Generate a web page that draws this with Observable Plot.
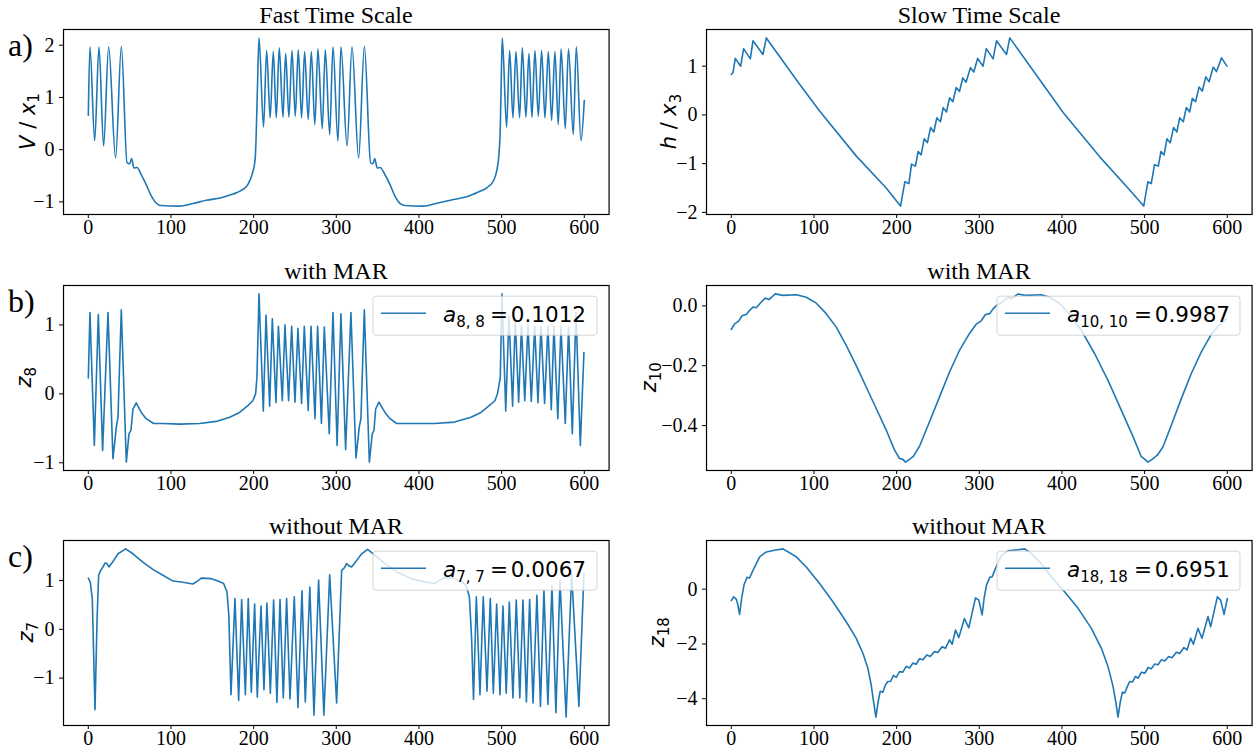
<!DOCTYPE html>
<html><head><meta charset="utf-8">
<script src="https://cdn.jsdelivr.net/npm/d3@7"></script>
<script src="https://cdn.jsdelivr.net/npm/@observablehq/plot@0.6"></script>
<style>
html,body{margin:0;padding:0;background:#fff;}
#fig{position:relative;width:1256px;height:749px;overflow:hidden;background:#fff;}
#fig svg{position:absolute;}
</style></head><body><div id="fig"></div>
<script>
// ---------- data (time, value) ----------
const xTicks = [0, 100, 200, 300, 400, 500, 600];

const fastV = [[0,0.66],[2,1.97],[7.7,0.17],[12.9,1.97],[18.5,0.07],[24.6,1.97],[33,-0.16],[40,1.98],[46.8,-0.25],[50,-0.27],[52.4,-0.17],[55.2,-0.35],[58.9,-0.34],[64,-0.48],[70,-0.67],[76,-0.88],[82,-1.02],[88,-1.07],[110,-1.08],[126.6,-1.03],[142.7,-0.97],[163,-0.91],[175,-0.85],[185,-0.78],[193,-0.67],[198,-0.48],[201.6,-0.22],[203,0.23],[204.4,1.05],[206.5,2.14],[212,0.43],[215.7,1.90],[220,0.61],[223.8,1.88],[227.4,0.61],[231,1.95],[235.5,0.62],[238.7,1.84],[242.7,0.62],[246.4,1.90],[250.4,0.64],[254,1.91],[258,0.61],[261.7,1.88],[266,0.58],[269.8,1.88],[274,0.48],[277.8,1.93],[283,0.40],[286.7,1.91],[292,0.29],[296,1.97],[302,0.16],[305.6,1.97],[313,0.07],[319,1.97],[327,-0.16],[334,1.98],[341.5,-0.25],[344.4,-0.27],[346.4,-0.17],[349.6,-0.35],[353,-0.34],[358.9,-0.48],[365,-0.67],[371,-0.89],[377,-1.03],[383,-1.07],[405,-1.08],[423,-1.02],[443.5,-0.95],[459.7,-0.89],[471.8,-0.81],[482,-0.73],[490,-0.60],[494,-0.41],[496.8,-0.09],[498.4,0.42],[499.6,1.37],[500.8,2.14],[506,0.43],[509.7,1.90],[513.7,0.61],[517.3,1.88],[521.8,0.61],[525,1.95],[529.4,0.62],[533,1.84],[536.7,0.62],[540.3,1.90],[544.4,0.64],[548.4,1.90],[552.4,0.61],[556.5,1.88],[560.5,0.56],[564.5,1.88],[568.5,0.48],[572,1.93],[577,0.40],[580.9,1.93],[586.7,0.29],[590.3,1.97],[596,0.17],[600,0.94]];

const slowH = [[0,0.83],[2,0.87],[4.8,1.16],[11.3,1.00],[14.9,1.36],[23,1.15],[26.2,1.52],[38.3,1.24],[42.3,1.58],[82.6,0.63],[106.8,0.08],[151,-0.84],[187.4,-1.50],[204.7,-1.87],[210,-1.37],[214.8,-1.41],[218,-1.01],[222.8,-1.05],[226,-0.75],[229.7,-0.82],[233.3,-0.49],[237.3,-0.57],[241,-0.26],[245,-0.35],[248.6,-0.06],[253,-0.14],[256.3,0.15],[260.3,0.06],[264,0.35],[268,0.27],[272,0.56],[276,0.48],[280,0.76],[284,0.67],[289.3,0.97],[293.4,0.88],[298,1.16],[304.6,1.00],[308.5,1.36],[316.7,1.15],[320.8,1.52],[332.9,1.24],[336.9,1.58],[377,0.63],[401.4,0.05],[445.7,-0.86],[482,-1.54],[498.9,-1.87],[504,-1.37],[508,-1.41],[512,-1.02],[516.6,-1.05],[519.8,-0.75],[523.5,-0.82],[527,-0.49],[531,-0.57],[535,-0.26],[539,-0.35],[542.4,-0.06],[546.8,-0.14],[550.4,0.15],[554.5,0.06],[557.7,0.34],[561.7,0.27],[565.8,0.57],[569.8,0.49],[574,0.78],[578,0.68],[583,0.98],[587,0.89],[593,1.17],[599.6,1.00]];

const z8 = [[0,0.23],[2,1.18],[7.3,-0.75],[12.1,1.15],[17.3,-0.82],[23.8,1.18],[29.8,-0.94],[33.9,-0.48],[35.9,-0.34],[39.9,1.22],[46,-0.99],[49.2,-0.58],[51.6,-0.53],[54,-0.22],[58,-0.13],[64,-0.27],[70,-0.36],[79,-0.43],[90,-0.43],[110.5,-0.44],[134.7,-0.43],[154.8,-0.40],[171,-0.34],[183,-0.27],[193,-0.17],[199,-0.10],[202.4,0],[204,0.24],[206.5,1.45],[211.7,-0.25],[215,1.14],[219.4,-0.18],[222.6,1.09],[227,-0.13],[230,0.98],[234.7,-0.10],[237.9,1.00],[242.3,-0.10],[246,0.98],[250,-0.12],[253.6,0.95],[258,-0.14],[261.3,0.98],[266,-0.24],[269.4,0.98],[274.2,-0.36],[277.4,0.98],[282,-0.43],[285.5,0.97],[291.5,-0.58],[296,1.18],[301,-0.75],[305.6,1.16],[311.3,-0.81],[317.7,1.18],[323.8,-0.93],[327.8,-0.48],[329.8,-0.36],[333.9,1.22],[340,-0.99],[343.5,-0.58],[345.6,-0.53],[347.6,-0.22],[351.6,-0.12],[358.9,-0.27],[365,-0.36],[373,-0.43],[391,-0.43],[419,-0.43],[443,-0.41],[463,-0.34],[475,-0.27],[485,-0.17],[491.9,-0.10],[495,0],[498.4,0.24],[500.4,1.45],[505,-0.25],[508.9,1.14],[513.3,-0.18],[516.5,1.09],[520.6,-0.12],[524,0.98],[528,-0.10],[531.9,1.00],[535.9,-0.11],[540,0.98],[544,-0.13],[547.6,0.98],[552,-0.14],[556,0.98],[560.1,-0.23],[563.3,0.98],[568,-0.36],[571.8,0.98],[577,-0.43],[581,0.97],[585.5,-0.58],[590,1.18],[595.2,-0.75],[599.6,0.60]];

const z10 = [[0,-0.079],[4,-0.060],[8.9,-0.051],[13.3,-0.032],[18.1,-0.029],[22.2,-0.015],[26.2,-0.004],[30.2,-0.006],[36.3,0.013],[41.1,0.026],[45.5,0.021],[53.2,0.040],[62.5,0.035],[78.6,0.037],[90.7,0.029],[102.8,0.009],[114.8,-0.026],[127,-0.071],[139,-0.132],[151,-0.199],[163.2,-0.271],[175.3,-0.343],[187.4,-0.415],[197.5,-0.482],[203.5,-0.510],[207.5,-0.513],[210.8,-0.522],[215.6,-0.513],[220.4,-0.502],[227.7,-0.469],[239.8,-0.387],[251.9,-0.304],[264,-0.221],[276,-0.149],[288,-0.093],[296,-0.062],[302.6,-0.049],[307.4,-0.029],[312.7,-0.026],[316.7,-0.010],[320.7,0.001],[324.8,0.007],[330.9,0.020],[335.7,0.029],[338.9,0.024],[347,0.040],[355,0.035],[375,0.037],[385.2,0.029],[397.3,0.007],[409.4,-0.029],[423.5,-0.082],[439.6,-0.160],[455.7,-0.249],[471.9,-0.349],[486,-0.437],[496,-0.504],[500,-0.512],[504.1,-0.522],[509,-0.513],[515.4,-0.499],[522.3,-0.471],[532.3,-0.399],[544.4,-0.310],[556.5,-0.226],[568.6,-0.154],[580.7,-0.095],[588.7,-0.069],[598.8,-0.043]];

const z7 = [[0,1.05],[2.4,0.97],[4.8,0.63],[8.1,-1.65],[10.5,0.16],[12.5,1.11],[14.9,1.21],[17.7,1.28],[20.2,1.36],[22.6,1.35],[25,1.28],[29.8,1.39],[35.9,1.55],[45.2,1.65],[54,1.55],[66,1.38],[78,1.23],[90.3,1.11],[102.4,0.99],[112.5,0.97],[126.6,0.93],[131.9,0.99],[136.7,1.05],[148.8,1.04],[156.9,0.99],[163.7,0.94],[167.7,0.77],[170,0.29],[172.6,-1.34],[177.4,0.63],[181.9,-1.46],[185.5,0.61],[190,-1.34],[193.5,0.63],[197.2,-1.29],[201.2,0.52],[204.4,-1.39],[208.9,0.48],[212.5,-1.24],[216.1,0.54],[220.2,-1.31],[224.2,0.60],[228.2,-1.50],[231.9,0.61],[235.9,-1.41],[239.9,0.63],[244,-1.43],[249.2,0.67],[253.6,-1.61],[258.5,0.79],[262.5,-1.49],[268,0.87],[273,-1.76],[278.6,1.01],[285,-1.76],[292,1.12],[300.4,-1.51],[306.5,1.21],[309.7,1.26],[312.5,1.35],[314.5,1.31],[318.5,1.28],[324.6,1.41],[330.6,1.55],[337.9,1.64],[344.8,1.55],[358.9,1.35],[375,1.16],[391,1.04],[407,0.97],[419,0.94],[425,1.01],[431,1.06],[441,1.05],[451,0.99],[457,0.90],[461,0.67],[463.7,-0.18],[466,-1.44],[469.4,0.67],[473.8,-1.34],[477.8,0.67],[482.3,-1.27],[486.3,0.63],[490,-1.31],[494,0.52],[498,-1.34],[501.6,0.48],[505.6,-1.31],[509.3,0.56],[513.7,-1.41],[517.7,0.60],[522,-1.41],[525.8,0.60],[530,-1.49],[533.9,0.61],[538,-1.51],[542.7,0.70],[547,-1.58],[551.2,0.80],[556,-1.54],[560.9,0.90],[565.7,-1.71],[570.6,1.01],[578,-1.80],[584.7,1.14],[593.5,-1.58],[599.6,1.14]];

const z18 = [[0,-0.42],[2.8,-0.28],[6,-0.36],[8,-0.58],[10,-0.92],[12.5,-0.34],[15.3,0.15],[19,0.43],[22.2,0.41],[26.2,0.69],[34.3,1.18],[42.3,1.36],[52.4,1.42],[62.5,1.47],[70.5,1.33],[78.6,1.18],[90.7,0.81],[106.8,0.21],[122.9,-0.46],[139,-1.19],[151,-1.79],[159.2,-2.34],[165.2,-2.89],[169.2,-3.49],[172,-4.10],[174.9,-4.67],[177.7,-4.10],[180.1,-3.73],[183.3,-3.76],[186.6,-3.49],[189.4,-3.37],[192.6,-3.37],[196.2,-3.15],[199.5,-3.22],[203.5,-3.01],[207.5,-3.03],[211.6,-2.82],[215.6,-2.88],[219.6,-2.70],[223.6,-2.74],[227.7,-2.54],[231.7,-2.58],[236.5,-2.40],[240.6,-2.46],[245.8,-2.28],[249.8,-2.31],[255,-2.10],[259,-2.16],[264,-1.85],[267.2,-2.01],[271.2,-1.49],[275.2,-1.77],[282,-1.07],[287.3,-1.41],[295.4,-0.32],[299.4,-0.40],[303.4,-0.94],[305.8,-0.34],[308.7,0.15],[312.7,0.43],[315.5,0.45],[319.5,0.75],[326.8,1.24],[334.8,1.40],[346.9,1.44],[355,1.47],[363,1.30],[373,1.00],[387.1,0.45],[403.4,-0.10],[419.5,-0.70],[435.6,-1.43],[447.7,-2.16],[455.7,-2.82],[461.8,-3.55],[465,-4.10],[467.8,-4.67],[470.7,-4.10],[473.1,-3.76],[475.9,-3.79],[479.2,-3.55],[482,-3.37],[485.2,-3.39],[488.8,-3.19],[492.2,-3.25],[496.2,-3.03],[500.2,-3.07],[504.3,-2.86],[508.1,-2.91],[512.2,-2.73],[516.2,-2.76],[520.2,-2.58],[524.3,-2.62],[529.1,-2.46],[533.1,-2.50],[538.4,-2.30],[542.4,-2.35],[547.6,-2.13],[551.3,-2.22],[555.7,-1.79],[559,-2.01],[564.6,-1.43],[569.4,-1.79],[576.7,-1.00],[579.9,-1.37],[588,-0.28],[592,-0.40],[596.1,-0.92],[600.1,-0.34]];

const yTicksFast = [-1, 0, 1, 2];
const yTicksSlow = [-2, -1, 0, 1];
const yTicksZ8 = [-1, 0, 1];
const yTicksZ10 = [-0.4, -0.2, 0.0];
const yTicksZ7 = [-1, 0, 1];
const yTicksZ18 = [-4, -2, 0];

const titles = ["Fast Time Scale", "Slow Time Scale", "with MAR", "with MAR", "without MAR", "without MAR"];
const rowLabels = ["a)", "b)", "c)"];
const legendSub = [null, null, "8, 8", "10, 10", "7, 7", "18, 18"];
const legendVal = [null, null, "0.1012", "0.9987", "0.0067", "0.6951"];

// ---------- layout ----------
const fig = document.getElementById("fig");
const FW = 545.6, FH = 185;
const mL = 62, mR = 4, mT = 4, mB = 34;
const colLeft = [63.2, 706.2];
const rowTop = [29, 284.7, 539.7];
const BLUE = "#1f77b4";
const SERIF = "'Liberation Serif','Times New Roman',serif";
const SANS = "'DejaVu Sans',sans-serif";

const panels = [
  {data: fastV, ticks: yTicksFast, fmt: d3.format("d"), curve: "monotone-x"},
  {data: slowH, ticks: yTicksSlow, fmt: d3.format("d"), curve: "linear"},
  {data: z8, ticks: yTicksZ8, fmt: d3.format("d"), curve: "linear"},
  {data: z10, ticks: yTicksZ10, fmt: d3.format(".1f"), curve: "linear"},
  {data: z7, ticks: yTicksZ7, fmt: d3.format("d"), curve: "linear"},
  {data: z18, ticks: yTicksZ18, fmt: d3.format("d"), curve: "linear"}
];

panels.forEach((p, i) => {
  const col = i % 2, row = Math.floor(i / 2);
  const ext = d3.extent(p.data, d => d[1]);
  const pad = (ext[1] - ext[0]) * 0.05;
  const svg = Plot.plot({
    width: FW + mL + mR,
    height: FH + mT + mB,
    marginLeft: mL, marginRight: mR, marginTop: mT, marginBottom: mB,
    style: {fontFamily: SERIF, fontSize: "20px", color: "black", background: "transparent", overflow: "visible"},
    x: {domain: [-30, 630]},
    y: {domain: [ext[0] - pad, ext[1] + pad]},
    marks: [
      Plot.line(p.data, {x: d => d[0], y: d => d[1], stroke: BLUE, strokeWidth: 1.6, curve: p.curve}),
      Plot.frame({stroke: "black", strokeWidth: 1.2}),
      Plot.axisX({ticks: xTicks, tickSize: 4, tickPadding: 1, label: null, tickFormat: d3.format("d"), fontSize: 20}),
      Plot.axisY({ticks: p.ticks, tickSize: 4, tickPadding: 5, label: null, tickFormat: p.fmt, fontSize: 20})
    ]
  });
  svg.style.left = (colLeft[col] - mL) + "px";
  svg.style.top = (rowTop[row] - mT) + "px";
  fig.appendChild(svg);
});

// ---------- overlay: titles, labels, legends ----------
const ov = d3.create("svg").attr("width", 1256).attr("height", 749)
  .style("left", "0px").style("top", "0px").style("pointer-events", "none");

titles.forEach((t, i) => {
  const col = i % 2, row = Math.floor(i / 2);
  ov.append("text").attr("x", colLeft[col] + FW / 2).attr("y", rowTop[row] - 5.7)
    .attr("text-anchor", "middle").attr("font-family", SERIF).attr("font-size", 24).text(t);
});
rowLabels.forEach((t, r) => {
  ov.append("text").attr("x", 8).attr("y", rowTop[r] + 27)
    .attr("font-family", SERIF).attr("font-size", 32).text(t);
});

// y-axis labels (rotated)
const ylabels = [
  [["V", "i"], [" / ", "n"], ["x", "i"], ["1", "s"]],
  [["h", "i"], [" / ", "n"], ["x", "i"], ["3", "s"]],
  [["z", "i"], ["8", "s"]],
  [["z", "i"], ["10", "s"]],
  [["z", "i"], ["7", "s"]],
  [["z", "i"], ["18", "s"]]
];
const ylabelX = [34.5, 676, 31, 656, 33, 664];
ylabels.forEach((parts, i) => {
  const row = Math.floor(i / 2);
  const cy = rowTop[row] + FH / 2;
  const t = ov.append("text").attr("transform", `translate(${ylabelX[i]},${cy}) rotate(-90)`)
    .attr("text-anchor", "middle").attr("font-family", SANS).attr("font-size", 21);
  parts.forEach(([s, k]) => {
    const ts = t.append("tspan").text(s);
    if (k === "i") ts.attr("font-style", "italic");
    if (k === "s") ts.attr("font-size", 15).attr("dy", 4.5);
  });
});

// legends
const eqX = [490, 1134];
const valEnd = [586, 1230];
legendSub.forEach((sub, i) => {
  if (!sub) return;
  const col = i % 2, row = Math.floor(i / 2);
  const bx = col === 0 ? 373 : 997;
  const bw = col === 0 ? 224 : 243;
  const by = rowTop[row] + 11.5;
  const g = ov.append("g");
  g.append("rect").attr("x", bx).attr("y", by).attr("width", bw).attr("height", 39).attr("rx", 3)
    .attr("fill", "white").attr("fill-opacity", 0.8).attr("stroke", "#cccccc").attr("stroke-opacity", 0.8);
  g.append("line").attr("x1", bx + 8).attr("x2", bx + 53).attr("y1", by + 17).attr("y2", by + 17)
    .attr("stroke", BLUE).attr("stroke-width", 1.6);
  const tx = g.append("text").attr("x", bx + 70).attr("y", by + 26)
    .attr("font-family", SANS).attr("font-size", 21.5);
  tx.append("tspan").attr("font-style", "italic").text("a");
  tx.append("tspan").attr("font-size", 15).attr("dy", 4.5).text(sub);
  g.append("text").attr("x", eqX[col]).attr("y", by + 26)
    .attr("font-family", SANS).attr("font-size", 21.5).text("=");
  g.append("text").attr("x", valEnd[col]).attr("y", by + 26).attr("text-anchor", "end")
    .attr("font-family", SANS).attr("font-size", 21.5).text(legendVal[i]);
});

fig.appendChild(ov.node());
</script></body></html>
